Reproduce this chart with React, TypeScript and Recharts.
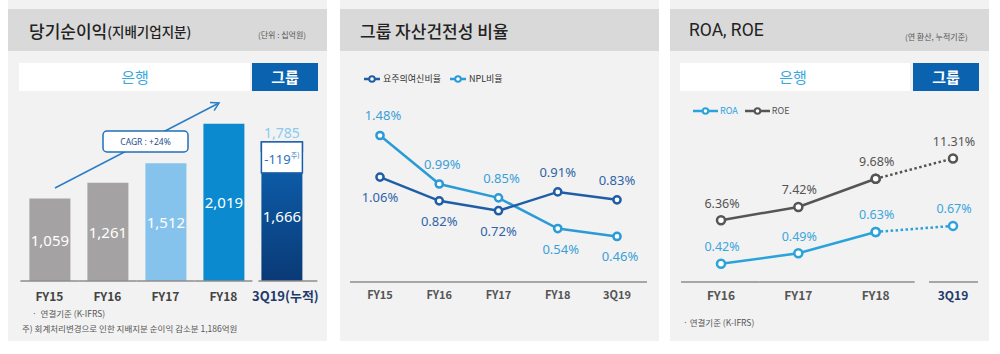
import React from 'react';
import { BarChart, Bar, LineChart, Line, XAxis, YAxis, Cell, LabelList } from 'recharts';

const FONT = "'Noto Sans CJK KR', 'Noto Sans', sans-serif";
const NUM_FONT = "'Noto Sans', 'Noto Sans CJK KR', sans-serif";

// ---------- Panel 1: 당기순이익 ----------
const incomeCategories = ['FY15', 'FY16', 'FY17', 'FY18', '3Q19(누적)'];
const incomeValues = [1059, 1261, 1512, 2019, 1666];
const incomeAdjustment: (number | null)[] = [null, null, null, null, 119];
const incomeColors = ['#a4a2a2', '#a4a2a2', '#86c3ec', '#0b8ad0', 'url(#gradQ19)'];

// ---------- Panel 2: 그룹 자산건전성 비율 ----------
const qualityCategories = ['FY15', 'FY16', 'FY17', 'FY18', '3Q19'];
const precautionaryRatio = [1.06, 0.82, 0.72, 0.91, 0.83];
const nplRatio = [1.48, 0.99, 0.85, 0.54, 0.46];

// ---------- Panel 3: ROA, ROE ----------
const profitCategories = ['FY16', 'FY17', 'FY18', '3Q19'];
const roaValues = [0.42, 0.49, 0.63, 0.67];
const roeValues = [6.36, 7.42, 9.68, 11.31];
const projectedFrom = 2; // index from which the line becomes dotted (FY18 -> 3Q19)

const incomeData = incomeCategories.map((c, i) => ({
  cat: c,
  base: incomeValues[i],
  adj: incomeAdjustment[i],
}));

const qualityData = qualityCategories.map((c, i) => ({
  cat: c,
  prec: precautionaryRatio[i],
  npl: nplRatio[i],
}));

const profitData = profitCategories.map((c, i) => ({
  cat: c,
  roa: i <= projectedFrom ? roaValues[i] : null,
  roaP: i >= projectedFrom ? roaValues[i] : null,
  roe: i <= projectedFrom ? roeValues[i] : null,
  roeP: i >= projectedFrom ? roeValues[i] : null,
}));

const fmt = (v: number) => v.toLocaleString('en-US');

const C_NPL = '#2b9bd7';
const C_PREC = '#1f5ea6';
const C_ROA = '#2aa3dc';
const C_ROE = '#555555';

// ---------- ticks ----------
const IncomeTick = (props: any) => {
  const { x, y, payload, index } = props;
  const last = index === incomeCategories.length - 1;
  const l = last ? 23 : 29;
  const r = last ? 36 : 29;
  return (
    <g>
      <line x1={x - l} x2={x + r} y1={y} y2={y} stroke="#8c8c8c" strokeWidth={1.5} />
      <text
        x={last ? x + 4 : x}
        y={y + 14}
        textAnchor="middle"
        dominantBaseline="central"
        fontSize={last ? 13 : 12}
        fontWeight={600}
        fill={last ? '#1f3a6a' : '#444'}
        fontFamily={FONT}
      >
        {payload.value}
      </text>
    </g>
  );
};

const QualityTick = (props: any) => {
  const { x, y, payload } = props;
  return (
    <text x={x} y={y + 12} textAnchor="middle" dominantBaseline="central" fontSize={11} fontWeight={600} fill="#555" fontFamily={FONT}>
      {payload.value}
    </text>
  );
};

const profitLeft = [40, 38.7, 38.7, 24];
const profitRight = [38.7, 38.7, 39, 25];
const ProfitTick = (props: any) => {
  const { x, y, payload, index } = props;
  const last = index === profitCategories.length - 1;
  return (
    <g>
      <line x1={x - profitLeft[index]} x2={x + profitRight[index]} y1={y} y2={y} stroke="#8c8c8c" strokeWidth={1.5} />
      <text
        x={x}
        y={y + 12}
        textAnchor="middle"
        dominantBaseline="central"
        fontSize={12}
        fontWeight={600}
        fill={last ? '#1f3a6a' : '#555'}
        fontFamily={FONT}
      >
        {payload.value}
      </text>
    </g>
  );
};

// ---------- labels ----------
const BarValueLabel = (props: any) => {
  const { x, y, width, height, value } = props;
  if (value == null) return null;
  return (
    <text x={x + width / 2} y={y + height / 2} textAnchor="middle" dominantBaseline="central" fill="#fff" fontSize={15} fontFamily={NUM_FONT}>
      {fmt(value)}
    </text>
  );
};

const AdjLabel = (props: any) => {
  const { x, y, width, value } = props;
  if (value == null) return null;
  const idx = incomeAdjustment.indexOf(value);
  const total = incomeValues[idx] + value;
  return (
    <g>
      <rect x={x} y={y} width={width} height={31} fill="#fff" stroke="#1b5ea8" strokeWidth={1.5} />
      <text x={x + width / 2} y={y + 17} textAnchor="middle" dominantBaseline="central" fill="#2a6fb8" fontSize={13} fontFamily={NUM_FONT}>
        -{value}
        <tspan fontSize={7} dy={-4} fontFamily={FONT}>주)</tspan>
      </text>
      <text x={x + width / 2} y={y - 9} textAnchor="middle" dominantBaseline="central" fill="#8ccaf0" fontSize={14} fontFamily={NUM_FONT}>
        {fmt(total)}
      </text>
    </g>
  );
};

const nplBelow = [false, false, false, true, true];
const precBelow = [true, true, true, false, false];

const makePointLabel = (below: boolean[], color: string, dx: number) => (props: any) => {
  const { x, y, value, index } = props;
  if (value == null) return null;
  const dy = below[index] ? 20 : -20;
  return (
    <text x={x + dx} y={y + dy} textAnchor="middle" dominantBaseline="central" fill={color} fontSize={13} fontFamily={NUM_FONT}>
      {value.toFixed(2)}%
    </text>
  );
};

const NplLabel = makePointLabel(nplBelow, '#3a9fd8', 3);
const PrecLabel = makePointLabel(precBelow, '#2e64a8', 0);

const makeProfitLabel = (color: string) => (props: any) => {
  const { x, y, value } = props;
  if (value == null) return null;
  return (
    <text x={x + 1} y={y - 17} textAnchor="middle" dominantBaseline="central" fill={color} fontSize={12.5} fontFamily={NUM_FONT}>
      {value.toFixed(2)}%
    </text>
  );
};
const RoaLabel = makeProfitLabel('#3aa6dc');
const RoeLabel = makeProfitLabel('#555');

// ---------- helpers ----------
const abs = (s: React.CSSProperties): React.CSSProperties => ({ position: 'absolute', ...s });

const LegendMark = ({ color, w }: { color: string; w: number }) => (
  <svg width={w} height={10} style={{ display: 'block' }}>
    <line x1={0} x2={w} y1={5} y2={5} stroke={color} strokeWidth={2.5} />
    <circle cx={w / 2} cy={5} r={2.8} fill="#fff" stroke={color} strokeWidth={2} />
  </svg>
);

const Panel = ({ left }: { left: number }) => (
  <>
    <div style={abs({ left, top: 0, width: 319, height: 341, background: '#f2f2f2' })} />
    <div style={abs({ left, top: 9, width: 319, height: 42, background: '#d9d9d9' })} />
  </>
);

const Tabs = ({ left, whiteW, blueLeft, bankCenter }: { left: number; whiteW: number; blueLeft: number; bankCenter: number }) => (
  <>
    <div style={abs({ left, top: 63, width: whiteW, height: 28, background: '#fff' })} />
    <div
      style={abs({
        left: bankCenter - 40,
        top: 63,
        width: 80,
        height: 28,
        lineHeight: '28px',
        textAlign: 'center',
        color: '#3aa8e0',
        fontSize: 15,
        fontFamily: FONT,
      })}
    >
      은행
    </div>
    <div
      style={abs({
        left: blueLeft,
        top: 63,
        width: 66,
        height: 28,
        lineHeight: '28px',
        background: '#0b63b0',
        color: '#fff',
        textAlign: 'center',
        fontSize: 15,
        fontWeight: 700,
        fontFamily: FONT,
      })}
    >
      그룹
    </div>
  </>
);

const solidDot = (color: string) => ({ r: 4, fill: '#fff', stroke: color, strokeWidth: 2.5, strokeDasharray: '0' });

export default function App() {
  return (
    <div style={abs({ left: 0, top: 0, width: 1000, height: 354, background: '#fff', overflow: 'hidden', fontFamily: FONT })}>
      <Panel left={8} />
      <Panel left={340} />
      <Panel left={670} />

      {/* Titles */}
      <div style={abs({ left: 29, top: 9, height: 42, display: 'flex', alignItems: 'center', color: '#222', fontFamily: FONT, whiteSpace: 'nowrap' })}>
        <span style={{ fontSize: 17, fontWeight: 500 }}>당기순이익</span>
        <span style={{ fontSize: 13.5, fontWeight: 500, marginTop: 2 }}>(지배기업지분)</span>
      </div>
      <div style={abs({ left: 258, top: 29, fontSize: 8, color: '#555', whiteSpace: 'nowrap' })}>(단위 : 십억원)</div>

      <div style={abs({ left: 360, top: 9, height: 42, display: 'flex', alignItems: 'center', color: '#222', fontSize: 17, fontWeight: 500, whiteSpace: 'nowrap' })}>
        그룹 자산건전성 비율
      </div>

      <div style={abs({ left: 689, top: 9, height: 42, display: 'flex', alignItems: 'center', color: '#222', fontSize: 17.5, fontWeight: 400, fontFamily: "Roboto, 'Noto Sans', sans-serif", whiteSpace: 'nowrap' })}>
        ROA, ROE
      </div>
      <div style={abs({ left: 905, top: 31, fontSize: 8, color: '#555', whiteSpace: 'nowrap' })}>(연 환산, 누적기준)</div>

      <Tabs left={19} whiteW={231} blueLeft={252} bankCenter={135} />
      <Tabs left={680} whiteW={230} blueLeft={913} bankCenter={793} />

      {/* Panel 1 chart */}
      <div style={abs({ left: 8, top: 0 })}>
        <BarChart width={319} height={354} data={incomeData} margin={{ top: 94, right: 16.6, bottom: 43, left: 12.4 }}>
          <defs>
            <linearGradient id="gradQ19" x1="0" y1="0" x2="0" y2="1">
              <stop offset="0%" stopColor="#0d61b0" />
              <stop offset="100%" stopColor="#0a3a76" />
            </linearGradient>
          </defs>
          <XAxis dataKey="cat" height={30} axisLine={false} tickLine={false} tickSize={0} tickMargin={0} interval={0} tick={<IncomeTick />} />
          <YAxis hide domain={[0, 2400]} />
          <Bar dataKey="base" stackId="a" barSize={41} isAnimationActive={false}>
            {incomeData.map((_, i) => (
              <Cell key={i} fill={incomeColors[i]} />
            ))}
            <LabelList dataKey="base" content={<BarValueLabel />} />
          </Bar>
          <Bar dataKey="adj" stackId="a" barSize={41} fill="#fff" stroke="#1b5ea8" strokeWidth={1.5} isAnimationActive={false}>
            <LabelList dataKey="adj" content={<AdjLabel />} />
          </Bar>
        </BarChart>
      </div>

      {/* Panel 2 chart */}
      <div style={abs({ left: 340, top: 0 })}>
        <LineChart width={319} height={354} data={qualityData} margin={{ top: 84, right: 12, bottom: 42, left: 10 }}>
          <XAxis
            dataKey="cat"
            height={30}
            padding={{ left: 30, right: 30 }}
            axisLine={{ stroke: '#8c8c8c', strokeWidth: 1.5 }}
            tickLine={false}
            tickSize={0}
            tickMargin={0}
            interval={0}
            tick={<QualityTick />}
          />
          <YAxis hide domain={[0, 2]} />
          <Line dataKey="npl" stroke={C_NPL} strokeWidth={2.5} dot={{ r: 3.6, fill: '#fff', stroke: C_NPL, strokeWidth: 2.5 }} isAnimationActive={false}>
            <LabelList dataKey="npl" content={<NplLabel />} />
          </Line>
          <Line dataKey="prec" stroke={C_PREC} strokeWidth={2.5} dot={{ r: 3.6, fill: '#fff', stroke: C_PREC, strokeWidth: 2.5 }} isAnimationActive={false}>
            <LabelList dataKey="prec" content={<PrecLabel />} />
          </Line>
        </LineChart>
      </div>

      {/* Panel 3 chart */}
      <div style={abs({ left: 670, top: 0 })}>
        <LineChart width={319} height={354} data={profitData} margin={{ top: 100, right: 11, bottom: 42, left: 11 }}>
          <XAxis
            dataKey="cat"
            height={30}
            padding={{ left: 40, right: 25 }}
            axisLine={false}
            tickLine={false}
            tickSize={0}
            tickMargin={0}
            interval={0}
            tick={<ProfitTick />}
          />
          <YAxis yAxisId="roe" hide domain={[1.4, 16]} />
          <YAxis yAxisId="roa" hide domain={[0.3, 1.5]} />
          <Line yAxisId="roe" dataKey="roeP" stroke={C_ROE} strokeWidth={2.5} strokeDasharray="2.5 2.5" dot={solidDot(C_ROE)} isAnimationActive={false}>
            <LabelList dataKey="roeP" content={(p: any) => (p.index === profitCategories.length - 1 ? RoeLabel(p) : null)} />
          </Line>
          <Line yAxisId="roe" dataKey="roe" stroke={C_ROE} strokeWidth={2.5} dot={solidDot(C_ROE)} isAnimationActive={false}>
            <LabelList dataKey="roe" content={<RoeLabel />} />
          </Line>
          <Line yAxisId="roa" dataKey="roaP" stroke={C_ROA} strokeWidth={2.5} strokeDasharray="2.5 2.5" dot={solidDot(C_ROA)} isAnimationActive={false}>
            <LabelList dataKey="roaP" content={(p: any) => (p.index === profitCategories.length - 1 ? RoaLabel(p) : null)} />
          </Line>
          <Line yAxisId="roa" dataKey="roa" stroke={C_ROA} strokeWidth={2.5} dot={solidDot(C_ROA)} isAnimationActive={false}>
            <LabelList dataKey="roa" content={<RoaLabel />} />
          </Line>
        </LineChart>
      </div>

      {/* Panel 1 annotation: CAGR arrow */}
      <svg width={1000} height={354} style={abs({ left: 0, top: 0, pointerEvents: 'none' })}>
        <line x1={55} y1={188} x2={219} y2={103} stroke="#2b7ec6" strokeWidth={1.5} />
        <polyline points="210,102.6 219,103 214.1,110.6" fill="none" stroke="#2b7ec6" strokeWidth={1.5} />
        <rect x={103} y={131} width={85} height={21} rx={4} fill="#fff" stroke="#2070b8" strokeWidth={1.5} />
        <text x={145.5} y={141.5} textAnchor="middle" dominantBaseline="central" fontSize={8.5} fill="#1d4f8f" fontFamily={NUM_FONT}>
          CAGR : +24%
        </text>
      </svg>

      {/* Panel 2 legend */}
      <div style={abs({ left: 364, top: 72, display: 'flex', alignItems: 'center', fontSize: 9, color: '#333', whiteSpace: 'nowrap' })}>
        <LegendMark color={C_PREC} w={16} />
        <span style={{ marginLeft: 3, marginRight: 9 }}>요주의여신비율</span>
        <LegendMark color={C_NPL} w={16} />
        <span style={{ marginLeft: 3 }}>NPL비율</span>
      </div>

      {/* Panel 3 legend */}
      <div style={abs({ left: 693, top: 104, display: 'flex', alignItems: 'center', fontSize: 9, whiteSpace: 'nowrap' })}>
        <LegendMark color={C_ROA} w={25} />
        <span style={{ marginLeft: 2, marginRight: 7, color: C_ROA }}>ROA</span>
        <LegendMark color={C_ROE} w={25} />
        <span style={{ marginLeft: 2, color: '#555' }}>ROE</span>
      </div>

      {/* Footnotes */}
      <div style={abs({ left: 32, top: 307, fontSize: 8.5, color: '#555', whiteSpace: 'nowrap' })}>·&nbsp; 연결기준 (K-IFRS)</div>
      <div style={abs({ left: 22, top: 322, fontSize: 8.5, color: '#555', whiteSpace: 'nowrap' })}>
        주) 회계처리변경으로 인한 지배지분 순이익 감소분 1,186억원
      </div>
      <div style={abs({ left: 683, top: 316, fontSize: 8.5, color: '#555', whiteSpace: 'nowrap' })}>· 연결기준 (K-IFRS)</div>
    </div>
  );
}
